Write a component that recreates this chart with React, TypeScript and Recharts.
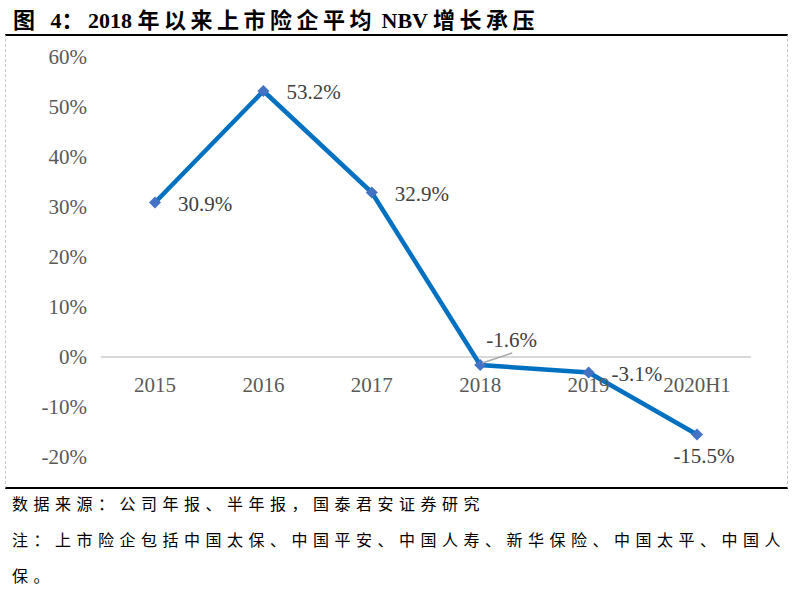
import {
  LineChart,
  Line,
  XAxis,
  YAxis,
  ReferenceLine,
  LabelList,
} from 'recharts';

const categories = ['2015', '2016', '2017', '2018', '2019', '2020H1'];
const nbvGrowth = [30.9, 53.2, 32.9, -1.6, -3.1, -15.5];
const yTicks = [-20, -10, 0, 10, 20, 30, 40, 50, 60];

const data = categories.map((year, i) => ({ year, nbv: nbvGrowth[i] }));

const SERIF = '"Liberation Serif", "Times New Roman", "Noto Sans CJK SC", serif';
const CJK = '"Liberation Serif", "Noto Sans CJK SC", serif';

// where each data label sits relative to its point
const labelSide = ['right', 'right', 'right', 'leader', 'right', 'below'];

function Diamond(props: any) {
  const { cx, cy } = props;
  if (cx == null || cy == null) return null;
  const r = 6;
  return (
    <polygon
      points={`${cx},${cy - r} ${cx + r},${cy} ${cx},${cy + r} ${cx - r},${cy}`}
      fill="#4472C4"
    />
  );
}

function PointLabel(props: any) {
  const { x, y, value, index } = props;
  const text = `${Number(value).toFixed(1)}%`;
  const side = labelSide[index];
  const style = { fontFamily: SERIF, fontSize: 21, fill: '#404040' };
  if (side === 'below') {
    return (
      <text x={x + 7} y={y + 28} textAnchor="middle" {...style}>
        {text}
      </text>
    );
  }
  if (side === 'leader') {
    return (
      <g>
        <line x1={x + 2} y1={y - 2} x2={x + 32} y2={y - 12} stroke="#A6A6A6" strokeWidth={1.5} />
        <text x={x + 6} y={y - 18} {...style}>
          {text}
        </text>
      </g>
    );
  }
  return (
    <text x={x + 23} y={y + 8} {...style}>
      {text}
    </text>
  );
}

function YearTick(props: any) {
  const { x, y, payload } = props;
  return (
    <text x={x} y={y - 73} textAnchor="middle" fontFamily={SERIF} fontSize={21} fill="#595959">
      {payload.value}
    </text>
  );
}

const cjk = { letterSpacing: 4.5 };

export default function App() {
  return (
    <div
      style={{
        position: 'absolute',
        left: 0,
        top: 0,
        width: 799,
        height: 599,
        background: '#fff',
        fontFamily: CJK,
      }}
    >
      <div
        style={{
          position: 'absolute',
          left: 13,
          top: 2,
          fontSize: 22,
          fontWeight: 'bold',
          color: '#000',
          whiteSpace: 'pre',
        }}
      >
        <span style={cjk}>图</span>
        {'  4'}
        <span style={cjk}>：</span>
        {'2018 '}
        <span style={cjk}>年以来上市险企平均</span>
        {' NBV '}
        <span style={cjk}>增长承压</span>
      </div>
      <div
        style={{
          position: 'absolute',
          left: 5,
          top: 34,
          width: 781,
          height: 451,
          borderTop: '2px solid #000',
          borderBottom: '2px solid #000',
          borderLeft: '1px dashed #C8C8C8',
          borderRight: '1px dashed #C8C8C8',
        }}
      />
      <div style={{ position: 'absolute', left: 0, top: 0 }}>
        <LineChart
          width={799}
          height={599}
          data={data}
          margin={{ top: 57, right: 48, bottom: 112, left: 41 }}
        >
          <XAxis
            dataKey="year"
            axisLine={false}
            tickLine={false}
            height={30}
            tick={<YearTick />}
            interval={0}
            padding={{ left: 54, right: 54 }}
          />
          <YAxis
            domain={[-20, 60]}
            ticks={yTicks}
            width={60}
            axisLine={false}
            tickLine={false}
            tickMargin={8}
            tickFormatter={(v: number) => `${v}%`}
            tick={{ fontFamily: SERIF, fontSize: 21, fill: '#595959' }}
            interval={0}
          />
          <ReferenceLine y={0} stroke="#D9D9D9" strokeWidth={2} />
          <Line
            type="linear"
            dataKey="nbv"
            stroke="#0070C0"
            strokeWidth={4.5}
            dot={<Diamond />}
            activeDot={false}
            isAnimationActive={false}
          >
            <LabelList dataKey="nbv" content={<PointLabel />} />
          </Line>
        </LineChart>
      </div>
      <div
        style={{
          position: 'absolute',
          left: 12,
          top: 487,
          fontSize: 16,
          letterSpacing: 5.5,
          color: '#000',
          lineHeight: '36px',
          width: 790,
        }}
      >
        <div>数据来源：公司年报、半年报，国泰君安证券研究</div>
        <div>注：上市险企包括中国太保、中国平安、中国人寿、新华保险、中国太平、中国人</div>
        <div>保。</div>
      </div>
    </div>
  );
}
